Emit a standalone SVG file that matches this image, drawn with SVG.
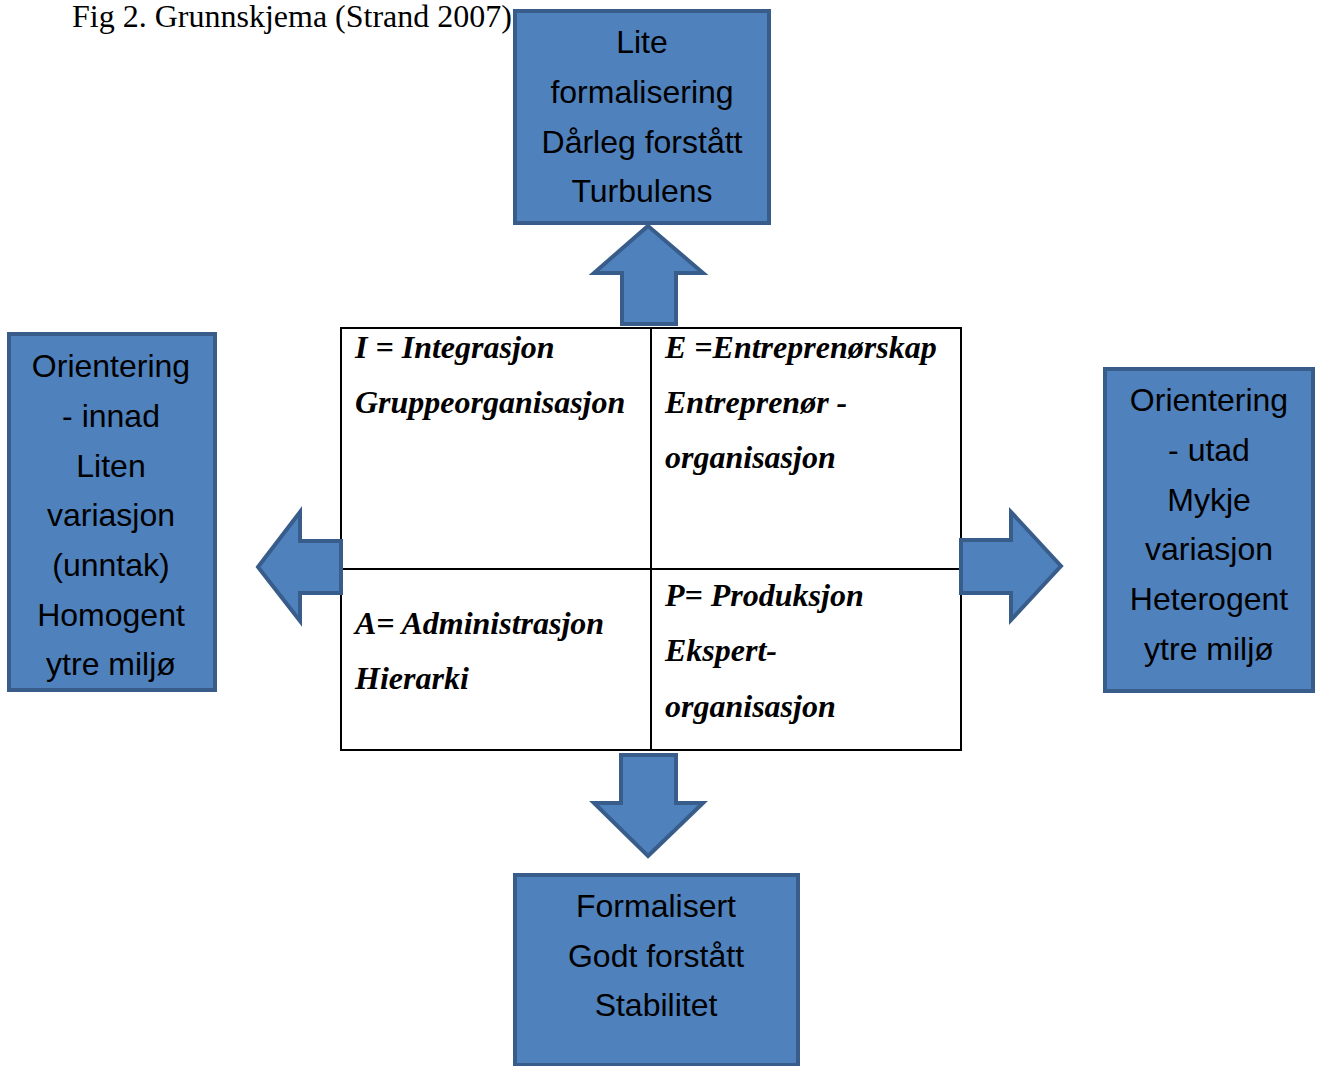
<svg xmlns="http://www.w3.org/2000/svg" width="1320" height="1066" viewBox="0 0 1320 1066">
<style>
.box{fill:#4F81BD;stroke:#385D8A;stroke-width:4}
.arr{fill:#4F81BD;stroke:#385D8A;stroke-width:4;stroke-linejoin:miter}
.bt{font-family:"Liberation Sans",Arial,sans-serif;font-size:32px;fill:#000;text-anchor:middle}
.gt{font-family:"Liberation Serif","Times New Roman",serif;font-size:32px;font-weight:bold;font-style:italic;fill:#000}
.title{font-family:"Liberation Serif","Times New Roman",serif;font-size:32px;fill:#000}
.grid{fill:none;stroke:#000;stroke-width:2}
</style>
<rect width="1320" height="1066" fill="#fff"/>
<text class="title" x="72" y="27">Fig 2. Grunnskjema (Strand 2007)</text>

<g id="matrix">
<rect class="grid" x="341" y="328" width="620" height="422"/>
<line class="grid" x1="651" y1="328" x2="651" y2="750"/>
<line class="grid" x1="341" y1="569" x2="961" y2="569"/>
<text class="gt" x="355" y="358">I = Integrasjon</text>
<text class="gt" x="355" y="413">Gruppeorganisasjon</text>
<text class="gt" x="665" y="358">E =Entreprenørskap</text>
<text class="gt" x="665" y="413">Entreprenør -</text>
<text class="gt" x="665" y="468">organisasjon</text>
<text class="gt" x="355" y="634">A= Administrasjon</text>
<text class="gt" x="355" y="689">Hierarki</text>
<text class="gt" x="665" y="606">P= Produksjon</text>
<text class="gt" x="665" y="661">Ekspert-</text>
<text class="gt" x="665" y="717">organisasjon</text>
</g>

<g id="connectors">
<polygon class="arr" points="648,226 703,273 676,273 676,324 622,324 622,273 594,273"/>
<polygon class="arr" points="258,567 300,512 300,541 341,541 341,593 300,593 300,621"/>
<polygon class="arr" points="1061,566 1011,512 1011,540 961,540 961,593 1011,593 1011,620"/>
<polygon class="arr" points="648,856 703,803 676,803 676,755 621,755 621,803 594,803"/>
</g>

<g id="top">
<rect class="box" x="515" y="11" width="254" height="212"/>
<text class="bt" x="642" y="53">Lite</text>
<text class="bt" x="642" y="103">formalisering</text>
<text class="bt" x="642" y="153">Dårleg forstått</text>
<text class="bt" x="642" y="202">Turbulens</text>
</g>

<g id="left">
<rect class="box" x="9" y="334" width="206" height="356"/>
<text class="bt" x="111" y="377">Orientering</text>
<text class="bt" x="111" y="427">- innad</text>
<text class="bt" x="111" y="477">Liten</text>
<text class="bt" x="111" y="526">variasjon</text>
<text class="bt" x="111" y="576">(unntak)</text>
<text class="bt" x="111" y="626">Homogent</text>
<text class="bt" x="111" y="675">ytre miljø</text>
</g>

<g id="right">
<rect class="box" x="1105" y="369" width="208" height="322"/>
<text class="bt" x="1209" y="411">Orientering</text>
<text class="bt" x="1209" y="461">- utad</text>
<text class="bt" x="1209" y="511">Mykje</text>
<text class="bt" x="1209" y="560">variasjon</text>
<text class="bt" x="1209" y="610">Heterogent</text>
<text class="bt" x="1209" y="660">ytre miljø</text>
</g>

<g id="bottom">
<rect class="box" x="515" y="875" width="283" height="190"/>
<text class="bt" x="656" y="917">Formalisert</text>
<text class="bt" x="656" y="967">Godt forstått</text>
<text class="bt" x="656" y="1016">Stabilitet</text>
</g>
</svg>
